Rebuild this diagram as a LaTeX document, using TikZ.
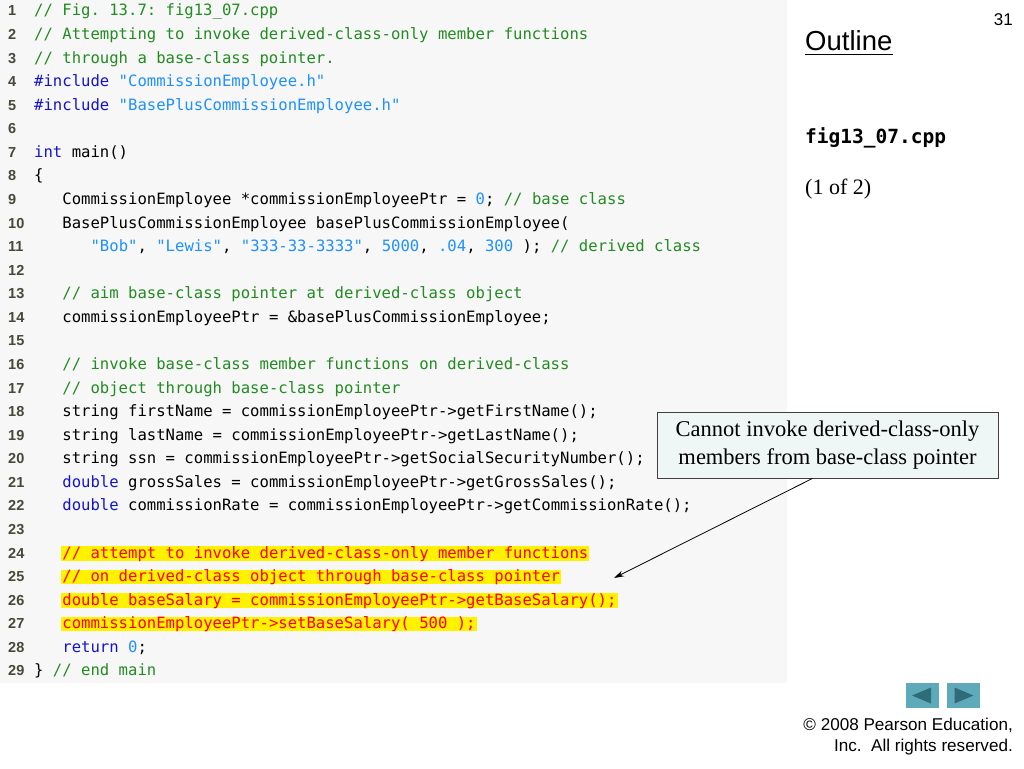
\documentclass[tikz,border=0pt]{standalone}
\usepackage{fontspec}
\setmainfont{Liberation Serif}
\setsansfont{Liberation Sans}
\setmonofont{DejaVu Sans Mono}
\usetikzlibrary{arrows.meta}
\definecolor{kwblue}{RGB}{20,20,205}
\definecolor{strblue}{RGB}{30,144,255}
\definecolor{cmgreen}{RGB}{34,139,34}
\definecolor{lncol}{RGB}{72,72,58}
\definecolor{panel}{RGB}{247,247,247}
\definecolor{callfill}{RGB}{238,246,246}
\definecolor{navfill}{RGB}{94,170,186}
\definecolor{navtri}{RGB}{46,108,120}
\definecolor{hlred}{RGB}{255,0,0}
\newcommand\ckw[1]{\textcolor{kwblue}{#1}}
\newcommand\cstr[1]{\textcolor{strblue}{#1}}
\newcommand\ccm[1]{\textcolor{cmgreen}{#1}}
\newcommand\ly[1]{(16+(#1-1)*23.57)}
\tikzset{
  code/.style={anchor=base west, inner sep=0pt, font=\fontsize{15.6}{18}\selectfont\ttfamily},
  hl/.style={code, fill=yellow, text=hlred, inner xsep=1pt, inner ysep=0pt, text height=12pt, text depth=2.5pt},
  lnum/.style={anchor=base west, inner sep=0pt, font=\fontsize{14.5}{16}\selectfont\sffamily\bfseries, text=lncol},
  side/.style={anchor=base west, inner sep=0pt},
  navbtn/.style={fill=navfill, minimum width=33pt, minimum height=25pt, inner sep=0pt},
  callbox/.style={draw=black!75, line width=0.8pt, fill=callfill, minimum width=341pt, minimum height=66pt, align=center, inner sep=0pt, font=\fontsize{22.5}{28}\selectfont\rmfamily}
}
\begin{document}
\begin{tikzpicture}[x=1pt,y=-1pt]
\useasboundingbox (0,0) rectangle (1024,768);
\fill[white] (0,0) rectangle (1024,768);
\fill[panel] (0,0) rectangle (787,683);

% line numbers
\foreach \k in {1,...,29} {
  \node[lnum] (n\k) at (8,{\ly{\k}}) {\k};
}

% code lines
\node[code] (c1) at (34,{\ly{1}}) {\ccm{// Fig. 13.7: fig13\_07.cpp}};
\node[code] (c2) at (34,{\ly{2}}) {\ccm{// Attempting to invoke derived-class-only member functions}};
\node[code] (c3) at (34,{\ly{3}}) {\ccm{// through a base-class pointer.}};
\node[code] (c4) at (34,{\ly{4}}) {\ckw{\#include} \cstr{"CommissionEmployee.h"}};
\node[code] (c5) at (34,{\ly{5}}) {\ckw{\#include} \cstr{"BasePlusCommissionEmployee.h"}};
\node[code] (c7) at (34,{\ly{7}}) {\ckw{int} main()};
\node[code] (c8) at (34,{\ly{8}}) {\{};
\node[code] (c9) at (62.2,{\ly{9}}) {CommissionEmployee *commissionEmployeePtr = \cstr{0}; \ccm{// base class}};
\node[code] (c10) at (62.2,{\ly{10}}) {BasePlusCommissionEmployee basePlusCommissionEmployee(};
\node[code] (c11) at (90.4,{\ly{11}}) {\cstr{"Bob"}, \cstr{"Lewis"}, \cstr{"333-33-3333"}, \cstr{5000}, \cstr{.04}, \cstr{300} ); \ccm{// derived class}};
\node[code] (c13) at (62.2,{\ly{13}}) {\ccm{// aim base-class pointer at derived-class object}};
\node[code] (c14) at (62.2,{\ly{14}}) {commissionEmployeePtr = \&basePlusCommissionEmployee;};
\node[code] (c16) at (62.2,{\ly{16}}) {\ccm{// invoke base-class member functions on derived-class}};
\node[code] (c17) at (62.2,{\ly{17}}) {\ccm{// object through base-class pointer}};
\node[code] (c18) at (62.2,{\ly{18}}) {string firstName = commissionEmployeePtr->getFirstName();};
\node[code] (c19) at (62.2,{\ly{19}}) {string lastName = commissionEmployeePtr->getLastName();};
\node[code] (c20) at (62.2,{\ly{20}}) {string ssn = commissionEmployeePtr->getSocialSecurityNumber();};
\node[code] (c21) at (62.2,{\ly{21}}) {\ckw{double} grossSales = commissionEmployeePtr->getGrossSales();};
\node[code] (c22) at (62.2,{\ly{22}}) {\ckw{double} commissionRate = commissionEmployeePtr->getCommissionRate();};
\node[hl] (c24) at (61.2,{\ly{24}}) {// attempt to invoke derived-class-only member functions};
\node[hl] (c25) at (61.2,{\ly{25}}) {// on derived-class object through base-class pointer};
\node[hl] (c26) at (61.2,{\ly{26}}) {double baseSalary = commissionEmployeePtr->getBaseSalary();};
\node[hl] (c27) at (61.2,{\ly{27}}) {commissionEmployeePtr->setBaseSalary( 500 );};
\node[code] (c28) at (62.2,{\ly{28}}) {\ckw{return} \cstr{0};};
\node[code] (c29) at (34,{\ly{29}}) {\} \ccm{// end main}};

% right column
\node[anchor=base east, inner sep=0pt, font=\fontsize{17}{18}\selectfont\sffamily] (pg) at (1013,26) {31};
\node[side, font=\fontsize{27.5}{30}\selectfont\sffamily] (ol) at (805,51) {Outline};
\draw[line width=1.3pt] ([yshift=-3.5pt]ol.base west) -- ([yshift=-3.5pt]ol.base east);
\node[side, font=\fontsize{19.5}{22}\selectfont\ttfamily\bfseries] (fn) at (805,143) {fig13\_07.cpp};
\node[side, font=\fontsize{22}{24}\selectfont\rmfamily] (part) at (805,194) {(1 of 2)};

% callout
\node[callbox] (callout) at (827.5,445) {Cannot invoke derived-class-only\\members from base-class pointer};
\coordinate (tip) at (614,578);
\draw[-{Stealth[length=10pt,width=6pt]}, line width=0.8pt] ([xshift=-15pt]callout.south) -- (tip);

% navigation
\node[navbtn] (prev) at (922,695.5) {};
\node[navbtn] (next) at (963.5,695.5) {};
\fill[navtri] ([xshift=-10pt]prev.center) -- ([xshift=9pt,yshift=-8pt]prev.center) -- ([xshift=9pt,yshift=8pt]prev.center) -- cycle;
\fill[navtri] ([xshift=10pt]next.center) -- ([xshift=-9pt,yshift=-8pt]next.center) -- ([xshift=-9pt,yshift=8pt]next.center) -- cycle;

% copyright
\node[anchor=base east, inner sep=0pt, font=\fontsize{17.1}{19}\selectfont\sffamily] (cr1) at (1013,730) {© 2008 Pearson Education,};
\node[anchor=base east, inner sep=0pt, font=\fontsize{17.1}{19}\selectfont\sffamily] (cr2) at (1013,751) {Inc.\ \ All rights reserved.};
\end{tikzpicture}
\end{document}
